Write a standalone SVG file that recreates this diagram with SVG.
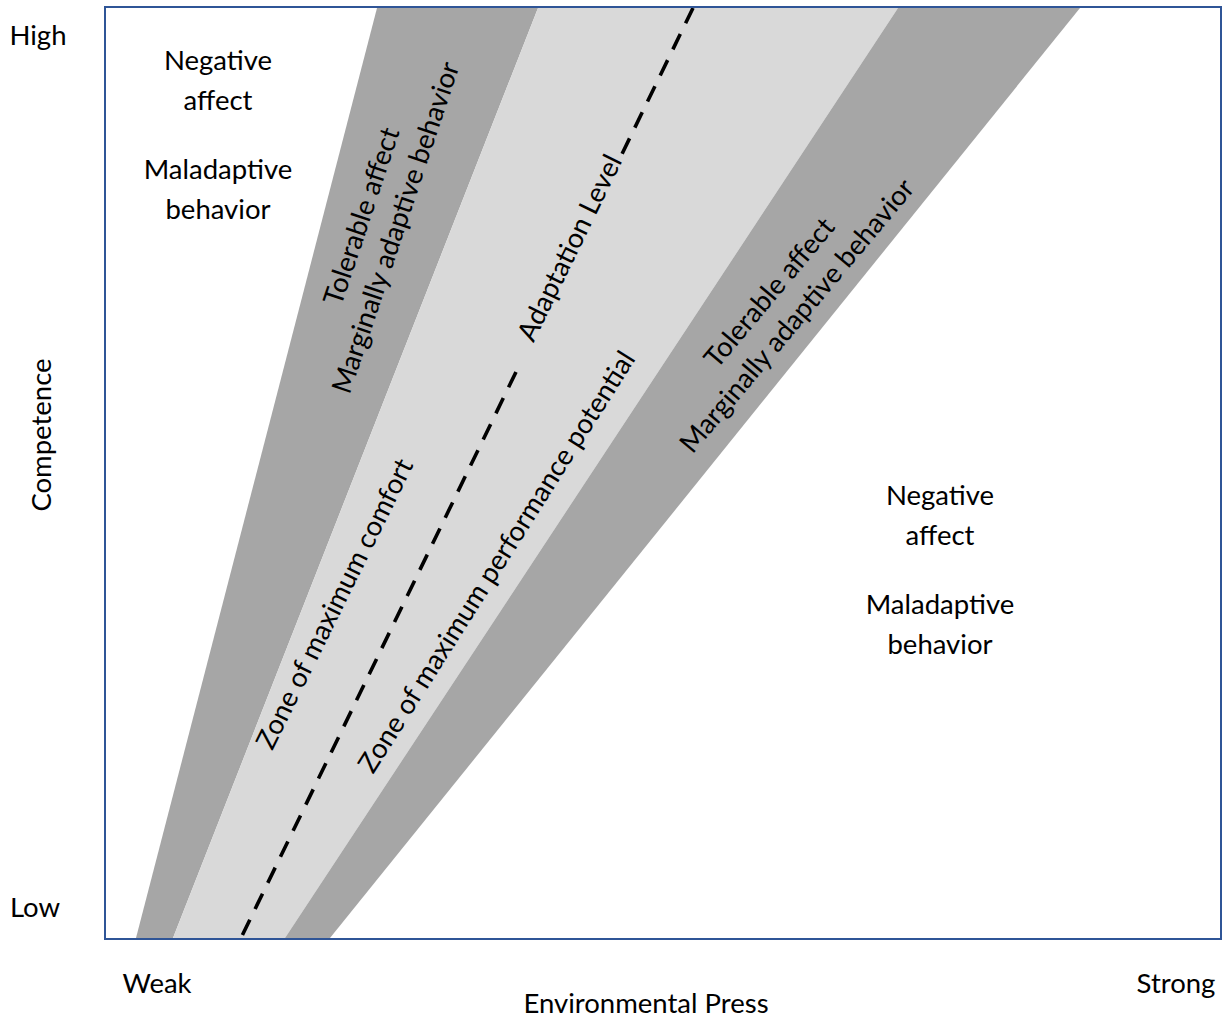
<svg xmlns="http://www.w3.org/2000/svg" width="1223" height="1021" viewBox="0 0 1223 1021">
<style>
text{font-family:Lato,"Liberation Sans",sans-serif;font-size:27.5px;fill:#000;text-anchor:middle}
.dark{fill:#a6a6a6}
.light{fill:#d9d9d9}
.dash{stroke:#000;stroke-width:3.6;stroke-dasharray:17 12;fill:none}
</style>
<rect width="1223" height="1021" fill="#fff"/>
<g id="bands">
<polygon id="band-left" class="dark" points="136,938 173,938 538,8 377,8"/>
<polygon id="band-center" class="light" points="173,938 285,938 898,8 538,8"/>
<polygon id="band-right" class="dark" points="285,938 330,938 1080,8 898,8"/>
</g>
<g id="connectors">
<line class="dash" x1="693" y1="8" x2="621" y2="156"/>
<line class="dash" x1="516" y1="372" x2="241" y2="938"/>
</g>
<rect id="frame" x="105" y="7" width="1116" height="932" fill="none" stroke="#2f5597" stroke-width="2"/>
<g id="axis-labels">
<text x="38" y="45">High</text>
<text x="35" y="917">Low</text>
<text transform="translate(51,435) rotate(-90)">Competence</text>
<text x="157" y="993">Weak</text>
<text x="1176" y="993">Strong</text>
<text x="646" y="1013">Environmental Press</text>
</g>
<g id="zone-top-left">
<text x="218" y="70">Negative</text>
<text x="218" y="110">affect</text>
<text x="218" y="179">Maladaptive</text>
<text x="218" y="219">behavior</text>
</g>
<g id="zone-bottom-right">
<text x="940" y="505">Negative</text>
<text x="940" y="545">affect</text>
<text x="940" y="614">Maladaptive</text>
<text x="940" y="654">behavior</text>
</g>
<g id="label-left-band" transform="translate(379,222) rotate(-71.5)">
<text y="-9">Tolerable affect</text>
<text y="27">Marginally adaptive behavior</text>
</g>
<g id="label-right-band" transform="translate(783.5,304.5) rotate(-50)">
<text y="-9">Tolerable affect</text>
<text y="27">Marginally adaptive behavior</text>
</g>
<g id="label-adaptation" transform="translate(570,248) rotate(-64)">
<text y="9">Adaptation Level</text>
</g>
<g id="label-comfort" transform="translate(335,604) rotate(-63.7)">
<text y="9">Zone of maximum comfort</text>
</g>
<g id="label-performance" transform="translate(497,562) rotate(-57.7)">
<text y="9">Zone of maximum performance potential</text>
</g>
</svg>
